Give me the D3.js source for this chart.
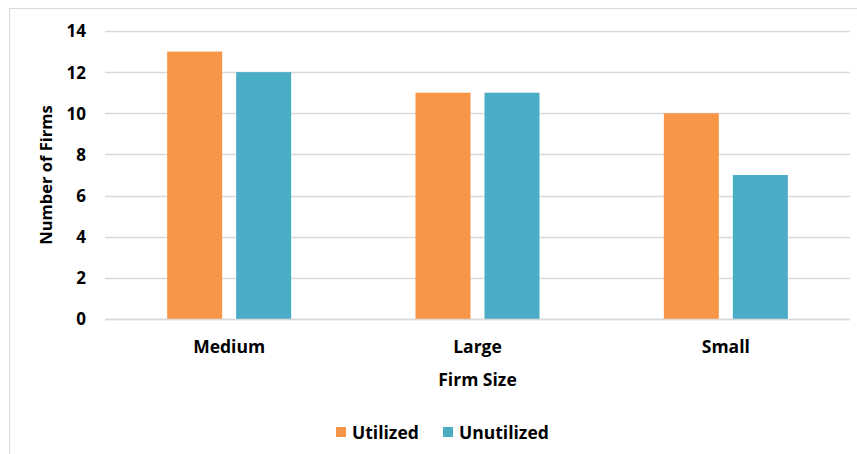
<!DOCTYPE html>
<html><head><meta charset="utf-8">
<script src="https://cdn.jsdelivr.net/npm/d3@7"></script>
<style>body{margin:0;background:#fff}svg{display:block}text{font-family:"Open Sans","Noto Sans",sans-serif;font-weight:bold;fill:#000}</style>
</head><body><svg id="c" width="857" height="454"></svg>
<script>
const categories = ["Medium", "Large", "Small"];
const seriesNames = ["Utilized", "Unutilized"];
const utilized = [13, 11, 10];
const unutilized = [12, 11, 7];
const yTicks = [0, 2, 4, 6, 8, 10, 12, 14];
const colors = ["#F79646", "#4BACC6"];

(function () {
const svg = d3.select("#c");
// outer chart border
svg.append("rect").attr("x", 9.5).attr("y", 8.5).attr("width", 860).attr("height", 460)
  .attr("fill", "none").attr("stroke", "#D9D9D9").attr("stroke-width", 1);

const pL = 105, pR = 850, pT = 31, pB = 319;
const x0 = d3.scaleBand().domain(categories).range([pL, pR]).paddingInner(0).paddingOuter(0);
const y = d3.scaleLinear().domain([0, 14]).range([pB, pT]);
const FONT = '"Open Sans","Noto Sans",sans-serif';

// gridlines
svg.append("g").selectAll("line").data(yTicks).join("line")
  .attr("x1", pL).attr("x2", pR)
  .attr("y1", d => Math.round(y(d)) + 0.5).attr("y2", d => Math.round(y(d)) + 0.5)
  .attr("stroke", "#D9D9D9").attr("stroke-width", 1.3);

// y axis labels
const yAxis = d3.axisLeft(y).tickValues(yTicks).tickSize(0).tickPadding(0);
const ya = svg.append("g").attr("transform", `translate(86,0)`).call(yAxis);
ya.select(".domain").remove();
ya.selectAll("text").style("font-size", "17px").style("font-family", FONT).style("font-weight", "bold").attr("fill", "#000").attr("dy", "0.35em");

// bars
const barW = 55, gap = 14;
const data = categories.map((c, i) => ({c, vals: [utilized[i], unutilized[i]]}));
const g = svg.append("g");
data.forEach(d => {
  const cx = x0(d.c) + x0.bandwidth() / 2;
  d.vals.forEach((v, j) => {
    const bx = j === 0 ? cx - gap / 2 - barW : cx + gap / 2;
    g.append("rect").attr("x", bx).attr("y", y(v)).attr("width", barW).attr("height", y(0) - y(v))
      .attr("fill", colors[j]);
  });
});

// baseline
svg.append("line").attr("x1", pL).attr("x2", pR).attr("y1", Math.round(y(0)) + 0.5).attr("y2", Math.round(y(0)) + 0.5)
  .attr("stroke", "#D9D9D9").attr("stroke-width", 1.3);

// x axis labels
const xAxis = d3.axisBottom(x0).tickSize(0).tickPadding(0);
const xa = svg.append("g").attr("transform", `translate(0,${pB})`).call(xAxis);
xa.select(".domain").remove();
xa.selectAll("text").style("font-size", "17.5px").style("font-family", FONT).style("font-weight", "bold").attr("fill", "#000").attr("y", 34).attr("dy", 0);

// axis titles
svg.append("text").attr("x", (pL + pR) / 2).attr("y", 386).attr("text-anchor", "middle").style("font-size", "17.5px").text("Firm Size");
svg.append("text").attr("transform", `translate(52,${(pT + pB) / 2}) rotate(-90)`).attr("text-anchor", "middle").style("font-size", "16.5px").text("Number of Firms");

// legend
const legendX = [336, 443];
seriesNames.forEach((s, i) => {
  svg.append("rect").attr("x", legendX[i]).attr("y", 427).attr("width", 10).attr("height", 10).attr("fill", colors[i]);
  svg.append("text").attr("x", legendX[i] + 16).attr("y", 439).style("font-size", "17.5px").text(s);
});
})();
</script></body></html>
